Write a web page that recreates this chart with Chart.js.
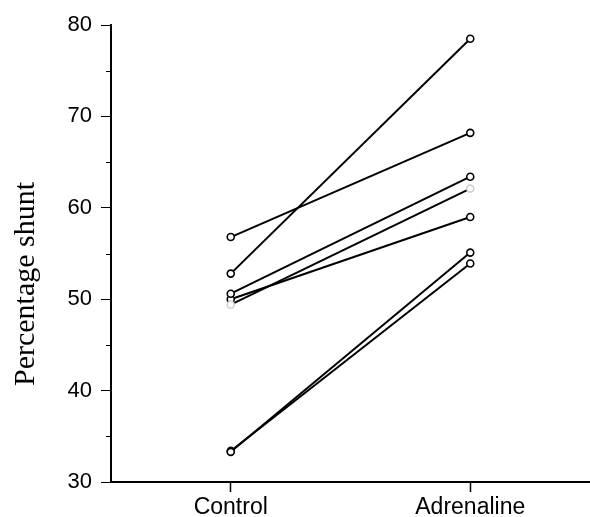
<!DOCTYPE html>
<html>
<head>
<meta charset="utf-8">
<script src="https://cdn.jsdelivr.net/npm/chart.js@4"></script>
<style>
  html, body { margin: 0; padding: 0; background: #fff; }
  #wrap { width: 590px; height: 517px; }
</style>
</head>
<body>
<div id="wrap"><canvas id="grafico"></canvas></div>
<script>
// --- dados ---
const categorias = ['Control', 'Adrenaline'];
const valoresControle = [56.8, 52.8, 50.6, 49.4, 50.0, 33.3, 33.4];
const valoresAdrenalina = [68.2, 78.5, 63.4, 62.1, 59.0, 55.1, 53.9];
const pontosClaros = [false, false, false, true, false, false, false]; // circulos quase apagados no original
const ticksY = [30, 40, 50, 60, 70, 80];
const ticksMenoresY = [35, 45, 55, 65, 75];

const datasets = valoresControle.map((v, i) => ({
    data: [v, valoresAdrenalina[i]],
    borderColor: '#000',
    borderWidth: 2,
    pointRadius: 3.5,
    pointBorderWidth: 1.6,
    pointBackgroundColor: '#fff',
    pointBorderColor: pontosClaros[i] ? '#d0d0d0' : '#000',
    tension: 0
}));

// ticks menores do eixo y e titulo do eixo (deslocado para baixo como no original)
const extrasEixo = {
    id: 'extrasEixo',
    afterDraw(chart) {
        const c = chart.ctx;
        const y = chart.scales.y;
        c.save();
        c.strokeStyle = '#000';
        c.lineWidth = 1;
        ticksMenoresY.forEach(v => {
            const py = Math.round(y.getPixelForValue(v)) + 0.5;
            c.beginPath();
            c.moveTo(y.right - 5, py);
            c.lineTo(y.right, py);
            c.stroke();
        });
        c.translate(26, 284);
        c.rotate(-Math.PI / 2);
        c.fillStyle = '#000';
        c.font = '30px "Liberation Serif", "DejaVu Serif", serif';
        c.textAlign = 'center';
        c.textBaseline = 'middle';
        c.fillText('Percentage shunt', 0, 0);
        c.restore();
    }
};

new Chart(document.getElementById('grafico'), {
    type: 'line',
    data: { labels: categorias, datasets: datasets },
    options: {
        responsive: true,
        maintainAspectRatio: false,
        animation: false,
        layout: { autoPadding: false, padding: { top: 25, right: -2, bottom: 0, left: 0 } },
        plugins: {
            legend: { display: false },
            tooltip: { enabled: false }
        },
        scales: {
            x: {
                type: 'category',
                offset: true,
                afterFit: (s) => { s.height = 35; s.paddingLeft = 0; s.paddingRight = 0; },
                grid: {
                    drawOnChartArea: false,
                    offset: false,
                    tickLength: 10,
                    tickColor: '#000',
                    tickWidth: 1.5
                },
                border: { color: '#000', width: 2 },
                ticks: {
                    color: '#000',
                    padding: 2,
                    font: { family: '"Liberation Sans", Arial, sans-serif', size: 23 }
                }
            },
            y: {
                min: 30,
                max: 80,
                afterFit: (s) => { s.width = 111; },
                afterBuildTicks: (s) => { s.ticks = ticksY.map(v => ({ value: v })); },
                grid: {
                    drawOnChartArea: false,
                    tickLength: 10,
                    tickColor: '#000',
                    tickWidth: 1
                },
                border: { color: '#000', width: 2 },
                ticks: {
                    color: '#000',
                    padding: 9,
                    font: { family: '"Liberation Sans", Arial, sans-serif', size: 22 }
                }
            }
        }
    },
    plugins: [extrasEixo]
});
</script>
</body>
</html>
